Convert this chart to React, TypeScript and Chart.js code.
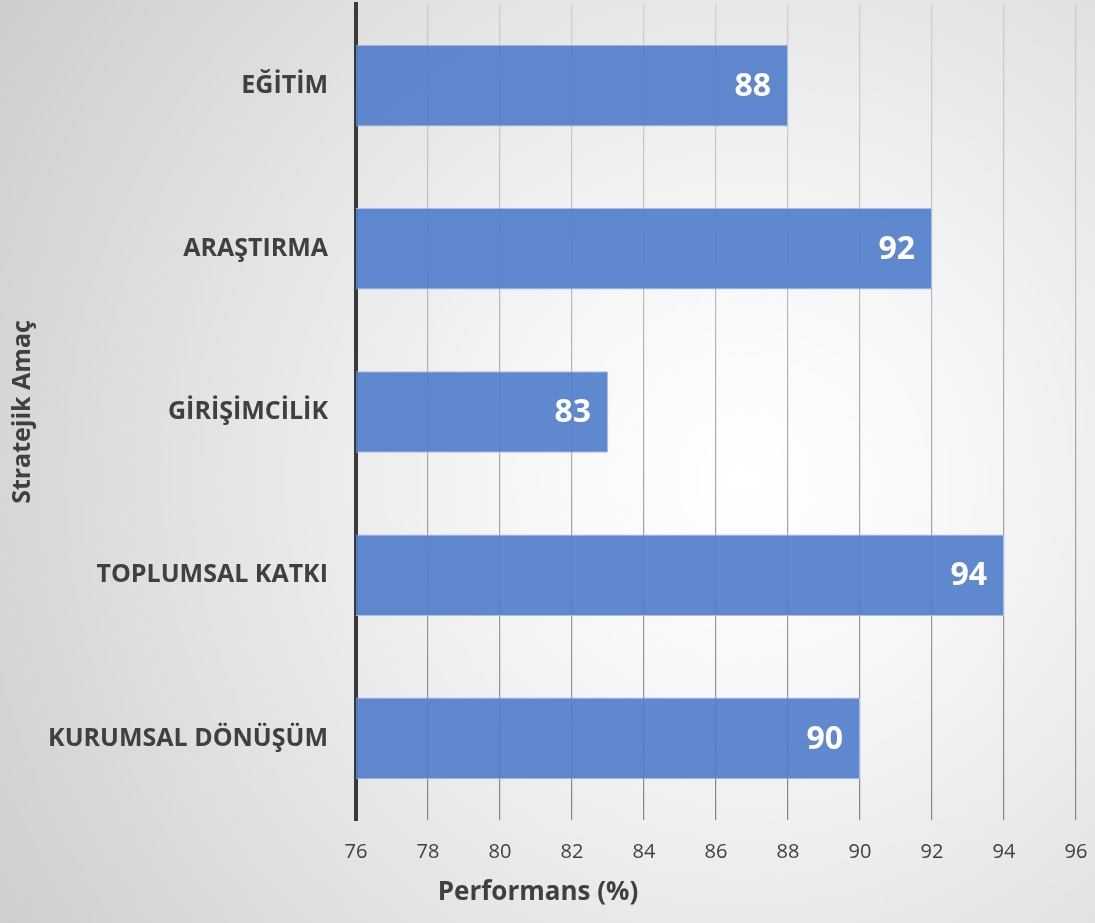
import React, { useEffect, useRef } from "react";
import { Chart, registerables } from "chart.js";

Chart.register(...registerables);

const categories = ["EĞİTİM", "ARAŞTIRMA", "GİRİŞİMCİLİK", "TOPLUMSAL KATKI", "KURUMSAL DÖNÜŞÜM"];
const performance = [88, 92, 83, 94, 90];
const xTitle = "Performans (%)";
const yTitle = "Stratejik Amaç";

const FONT = "'Open Sans', sans-serif";

const valueLabels = {
  id: "valueLabels",
  afterDatasetsDraw(chart: any) {
    const ctx = chart.ctx;
    const meta = chart.getDatasetMeta(0);
    ctx.save();
    ctx.fillStyle = "#ffffff";
    ctx.font = `bold 32px ${FONT}`;
    ctx.textAlign = "right";
    ctx.textBaseline = "middle";
    meta.data.forEach((bar: any, i: number) => {
      const v = chart.data.datasets[0].data[i];
      ctx.fillText(String(v), bar.x - 17, bar.y + 1);
    });
    ctx.restore();
  },
};

// x-axis title centred on the whole figure, as in the reference
const xTitlePlugin = {
  id: "xTitlePlugin",
  afterDraw(chart: any) {
    const ctx = chart.ctx;
    ctx.save();
    ctx.fillStyle = "#404040";
    ctx.font = `bold 26px ${FONT}`;
    ctx.textAlign = "center";
    ctx.textBaseline = "middle";
    ctx.fillText(xTitle, 538, chart.height - 30);
    ctx.restore();
  },
};

export default function App() {
  const ref = useRef<HTMLCanvasElement>(null);
  useEffect(() => {
    document.body.style.margin = "0";
    const chart = new Chart(ref.current!, {
      type: "bar",
      data: {
        labels: categories,
        datasets: [
          {
            data: performance,
            backgroundColor: "rgba(84, 127, 202, 0.93)",
            borderColor: "rgba(165, 190, 235, 1)",
            borderWidth: 1,
            barPercentage: 0.5,
            categoryPercentage: 1,
          },
        ],
      },
      options: {
        indexAxis: "y",
        animation: false,
        responsive: true,
        maintainAspectRatio: false,
        layout: { padding: { left: 0, right: 19, top: 4, bottom: 0 } },
        plugins: { legend: { display: false }, tooltip: { enabled: false } },
        scales: {
          x: {
            min: 76,
            max: 96,
            ticks: {
              stepSize: 2,
              padding: 20,
              color: "#404040",
              font: { family: FONT, size: 20 },
            },
            grid: {
              drawTicks: false,
              lineWidth: 1.2,
              color: (c: any) => {
                const chart = c.chart;
                const area = chart.chartArea;
                if (!area) return "#aaaaaa";
                const g = chart.ctx.createLinearGradient(0, area.top, 0, area.bottom);
                g.addColorStop(0, "rgba(150,150,150,0.3)");
                g.addColorStop(0.5, "rgba(140,140,140,0.7)");
                g.addColorStop(1, "rgba(120,120,120,0.9)");
                return g;
              },
            },
            border: { display: false },
            title: { display: false },
            afterFit: (s: any) => {
              s.height = 103;
              s.paddingLeft = 0;
              s.paddingRight = 0;
            },
          },
          y: {
            ticks: {
              padding: 28,
              color: "#404040",
              font: { family: FONT, size: 25, weight: "bold" },
            },
            grid: { display: false, drawTicks: false },
            border: { display: true, color: "#3a3a3a", width: 4 },
            title: {
              display: true,
              text: yTitle,
              color: "#404040",
              font: { family: FONT, size: 25, weight: "bold" },
              padding: { top: 8, bottom: 0 },
            },
            afterFit: (s: any) => {
              s.width = 356;
              s.paddingTop = 0;
              s.paddingBottom = 0;
            },
          },
        },
      },
      plugins: [valueLabels, xTitlePlugin],
    });
    return () => chart.destroy();
  }, []);
  return (
    <div
      style={{
        width: 1095,
        height: 923,
        position: "relative",
        background:
          "radial-gradient(circle farthest-corner at 68% 52%, #ffffff 0%, #f7f7f7 25%, #e4e4e4 60%, #cdcdcd 100%)",
      }}
    >
      <canvas ref={ref} />
    </div>
  );
}
